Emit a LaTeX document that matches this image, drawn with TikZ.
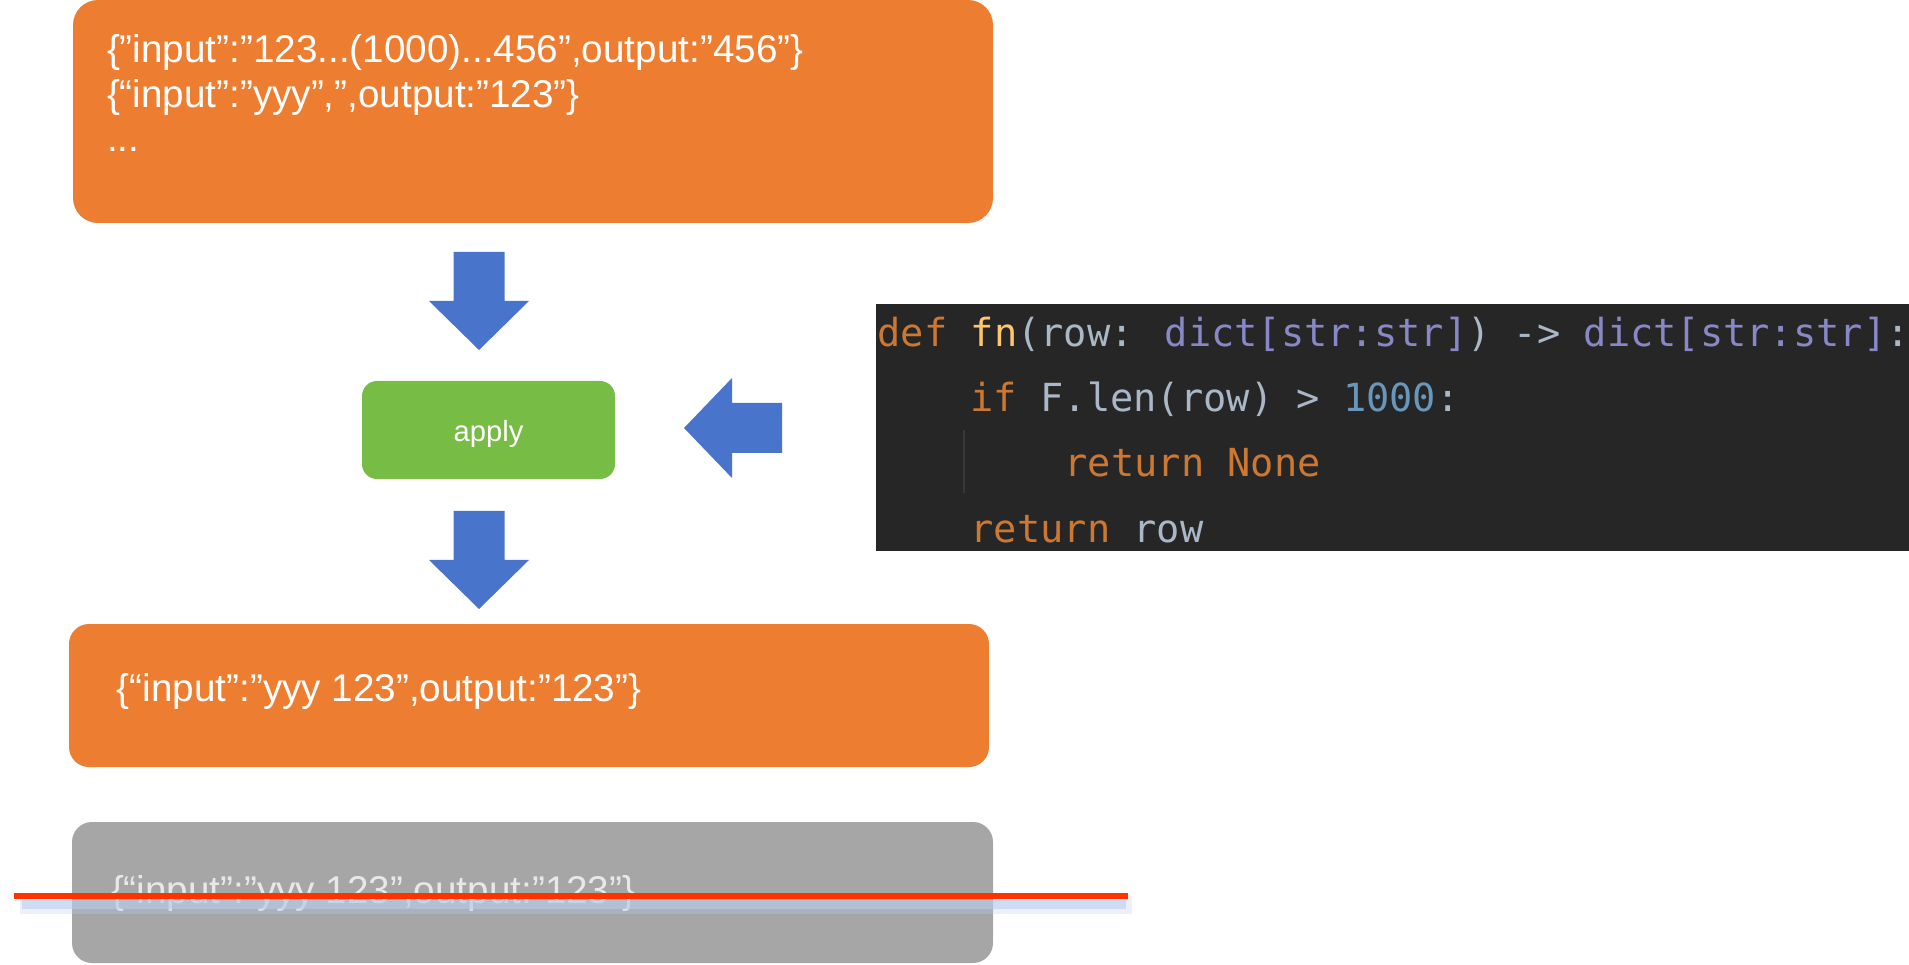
\documentclass[tikz,border=0pt]{standalone}
\usepackage{fontspec}
\setmainfont{Liberation Sans}
\newfontfamily\codefont{DejaVu Sans Mono}
\usetikzlibrary{positioning}

\definecolor{cardorange}{HTML}{ED7D31}
\definecolor{applygreen}{HTML}{77BC44}
\definecolor{flowblue}{HTML}{4874CB}
\definecolor{dropgray}{HTML}{A6A6A6}
\definecolor{strikered}{HTML}{FF3300}
\definecolor{glowblue}{HTML}{B8CBEC}
\definecolor{codebg}{HTML}{262626}
\definecolor{kwd}{HTML}{CC7832}
\definecolor{fnc}{HTML}{FFC66D}
\definecolor{plain}{HTML}{A9B7C6}
\definecolor{typ}{HTML}{8888C6}
\definecolor{num}{HTML}{6897BB}

\begin{document}
\begin{tikzpicture}[
  card/.style={fill=cardorange, rounded corners=0.2cm, inner sep=0pt},
  rowtext/.style={anchor=base west, inner sep=0pt, text=white,
                  font=\fontsize{11}{13}\selectfont},
  flow/.style={fill=flowblue},
  codeline/.style={anchor=base west, inner sep=0pt, text=plain,
                   font=\fontsize{11}{13}\codefont}]

  \useasboundingbox (0,0) rectangle (19.09,-9.65);

  % Wejscie
  \node[card, rounded corners=0.25cm, minimum width=9.20cm, minimum height=2.23cm] (rows) at (5.33,-1.115) {};
  \node[rowtext] (row1) at ([shift={(0.34,-0.63)}]rows.north west)
    {\{”input”:”123...(1000)...456”,output:”456”\}};
  \node[rowtext] (row2) at ([shift={(0.34,-1.08)}]rows.north west)
    {\{“input”:”yyy”,”,output:”123”\}};
  \node[rowtext] (row3) at ([shift={(0.34,-1.52)}]rows.north west) {...};

  % apply
  \node[fill=applygreen, rounded corners=0.15cm, minimum width=2.53cm, minimum height=0.98cm,
        text=white, text height=0.25cm, text depth=0.03cm,
        font=\fontsize{8.3}{10}\selectfont] (apply) at (4.885,-4.30) {apply};

  % Kod funkcji
  \node[fill=codebg, inner sep=0pt, minimum width=10.33cm, minimum height=2.47cm] (code) at (13.925,-4.275) {};
  \node[codeline] (ln1) at (8.77,-3.47)
    {\textcolor{kwd}{def} \textcolor{fnc}{fn}(row: \textcolor{typ}{dict[str:str]}) -> \textcolor{typ}{dict[str:str]}:};
  \node[codeline] (ln2) at (9.70,-4.12)
    {\textcolor{kwd}{if} F.len(row) > \textcolor{num}{1000}:};
  \node[codeline] (ln3) at (10.64,-4.77) {\textcolor{kwd}{return None}};
  \node[codeline] (ln4) at (9.70,-5.42) {\textcolor{kwd}{return} row};
  \draw[color=black!78, line width=0.4pt] (9.64,-4.30) -- (9.64,-4.93);

  % Strzalki
  \coordinate (tip1) at (4.79,-3.50);
  \coordinate (tip2) at (4.79,-6.09);
  \coordinate (tip3) at (6.84,-4.28);
  \fill[flow] (tip1) -- ++(-0.50,0.49) -- ++(0.245,0) -- ++(0,0.49) -- ++(0.51,0)
    -- ++(0,-0.49) -- ++(0.245,0) -- cycle;
  \fill[flow] (tip2) -- ++(-0.50,0.49) -- ++(0.245,0) -- ++(0,0.49) -- ++(0.51,0)
    -- ++(0,-0.49) -- ++(0.245,0) -- cycle;
  \fill[flow] (tip3) -- ++(0.48,0.50) -- ++(0,-0.25) -- ++(0.50,0) -- ++(0,-0.50)
    -- ++(-0.50,0) -- ++(0,-0.25) -- cycle;

  % Wynik
  \node[card, minimum width=9.20cm, minimum height=1.43cm] (out) at (5.29,-6.955) {};
  \node[rowtext] (outtxt) at ([shift={(0.48,-0.78)}]out.north west)
    {\{“input”:”yyy 123”,output:”123”\}};

  % Odrzucony wiersz
  \node[fill=dropgray, rounded corners=0.2cm, inner sep=0pt, minimum width=9.21cm,
        minimum height=1.41cm] (drop) at (5.325,-8.925) {};
  \node[rowtext, text opacity=0.75] (droptxt) at ([shift={(0.39,-0.82)}]drop.north west)
    {\{“input”:”yyy 123”,output:”123”\}};
  \draw[glowblue, line width=0.18cm, opacity=0.3] (0.20,-9.05) -- (11.32,-9.05);
  \draw[glowblue, line width=0.09cm, opacity=0.55] (0.22,-9.04) -- (11.26,-9.04);
  \draw[strikered, line width=0.06cm] (0.14,-8.96) -- (11.28,-8.96);
\end{tikzpicture}
\end{document}
